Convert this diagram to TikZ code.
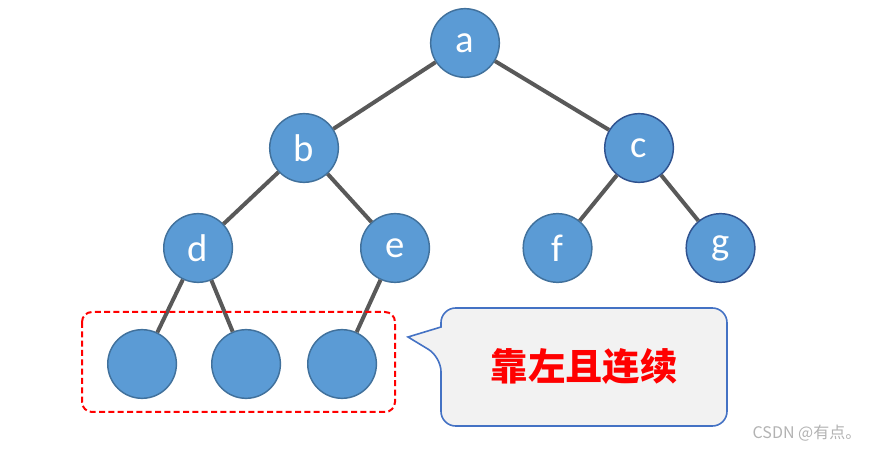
\documentclass[tikz,border=0pt]{standalone}
\usepackage{fontspec}
\setsansfont{Carlito}
\newfontfamily\cjk{Noto Sans CJK SC}
\usepackage{xcolor}
\definecolor{azul}{HTML}{5B9BD5}
\definecolor{azulborde}{HTML}{41719C}
\definecolor{azuloscuro}{HTML}{2F528F}
\definecolor{gris}{HTML}{595959}
\definecolor{globofondo}{HTML}{F2F2F2}
\definecolor{globoborde}{HTML}{4472C4}

\begin{document}
\begin{tikzpicture}[        level 1/.style={sibling distance=251.25pt, level distance=78.75pt},      level 2/.style={level distance=75pt},      level 3/.style={sibling distance=78pt, level distance=87pt},        edge from parent/.style={draw=gris,line width=3pt},        bola/.style={circle,fill=azul,draw=azulborde,line width=1.1pt,minimum size=51.5pt,inner sep=0pt,text=white,font=\sffamily\fontsize{29}{29}\selectfont},       bolaoscura/.style={bola,draw=azuloscuro},       caja/.style={draw=red,line width=1.5pt,dash pattern=on 4.5pt off 2.5pt,rounded corners=7.5pt},       globo/.style={fill=globofondo,draw=globoborde,line width=1.2pt},       letrero/.style={text=red,font=\cjk\bfseries\fontsize{28}{28}\selectfont},       marca/.style={text=black!30,font=\cjk\fontsize{12}{12}\selectfont,anchor=east}  ]
    \useasboundingbox (0,0) rectangle (657pt,-336.75pt);
    \node[bola] (a) at (348.75pt,-32.25pt) {a}
    child[xshift=4.9pt]{
        node[bola] (b) {b}
        child[sibling distance=147.75pt, xshift=-5.6pt]{
            node[bola] (d) {d}
            child[xshift=-3pt]{
                node[bola] (h1) {}
            }
            child[xshift=-3pt]{
                node[bola] (h2) {}
            }
        }
        child[sibling distance=147.75pt, xshift=-5.6pt]{
            node[bola] (e) {e}
            child[xshift=-39.75pt]{
                node[bola] (h3) {}
            }
        }
    }
    child[xshift=4.9pt]{
        node[bolaoscura] (c) {c}
        child[sibling distance=122.25pt]{
            node[bola] (f) {f}
        }
        child[sibling distance=122.25pt]{
            node[bolaoscura] (g) {g}
        }
    };
    \draw[caja] (61.5pt,-234pt) rectangle (296.25pt,-309pt);
    \draw[globo] [rounded corners=11pt] (330.75pt,-245.25pt) |- (545.25pt,-231pt) |- (330.75pt,-319.5pt) -- (330.75pt,-267.75pt) [sharp corners] -- (306pt,-252.75pt) -- cycle;
    \node[letrero] (texto) at (438pt,-275.25pt) {靠左且连续};
    \node[marca] (firma) at (649.5pt,-324.75pt) {CSDN @有点。};
    \end{tikzpicture}
\end{document}
